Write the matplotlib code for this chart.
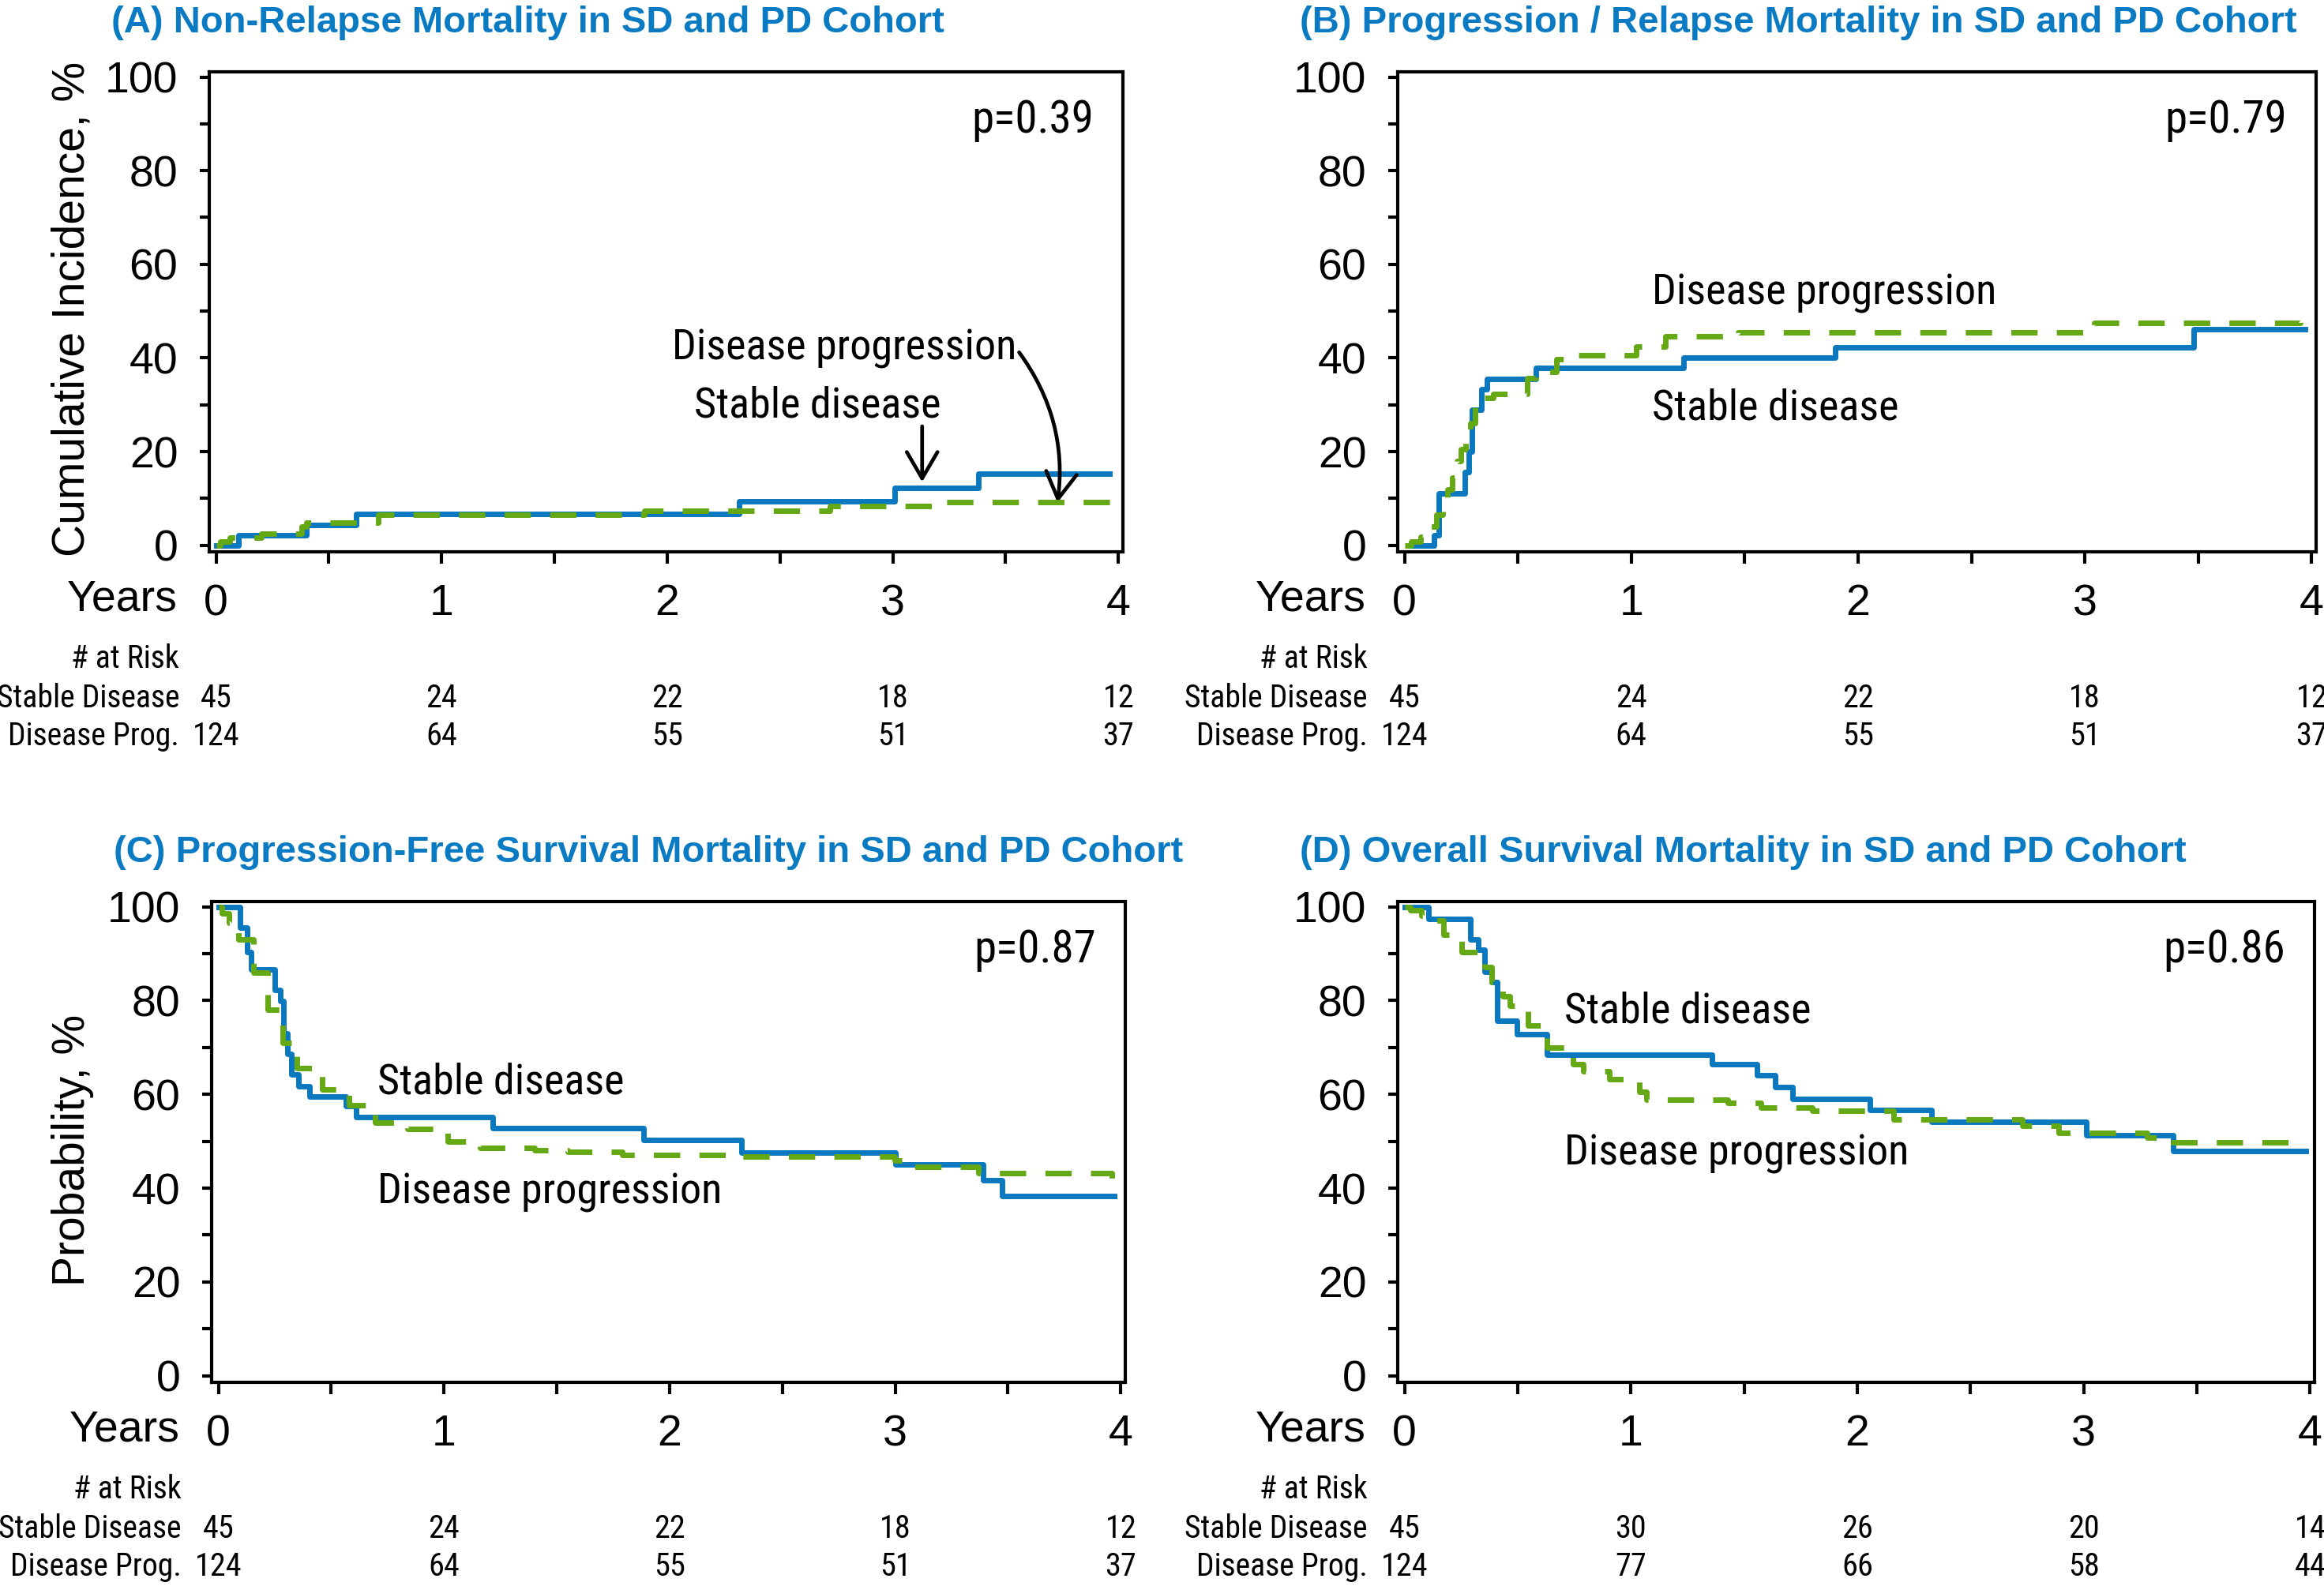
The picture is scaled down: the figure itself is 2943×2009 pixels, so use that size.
import os
import numpy as np
import matplotlib
matplotlib.use("Agg")
import matplotlib.pyplot as plt
from matplotlib import font_manager

# ____data (years, %)
a_sd_t = [0, 0.10, 0.40, 0.62, 2.32, 3.01, 3.38, 3.96]
a_sd_v = [0, 2.2, 4.4, 6.7, 9.4, 12.3, 15.3, 15.3]
a_pd_t = [0, 0.02, 0.06, 0.20, 0.38, 0.40, 0.72, 1.90, 2.72, 3.21, 3.97]
a_pd_v = [0, 0.8, 1.6, 2.4, 4.0, 4.8, 6.5, 7.3, 8.4, 9.3, 9.3]

b_sd_t = [0.04, 0.13, 0.15, 0.266, 0.285, 0.298, 0.338, 0.365, 0.578, 1.23, 1.90, 3.48, 3.97]
b_sd_v = [0, 2.2, 11.1, 15.6, 20.0, 28.9, 33.3, 35.6, 37.8, 40.0, 42.2, 46.2, 46.2]
b_pd_t = [0, 0.03, 0.07, 0.10, 0.14, 0.17, 0.19, 0.21, 0.23, 0.25, 0.27, 0.29, 0.31, 0.33, 0.39,
          0.54, 0.58, 0.67, 0.72, 1.02, 1.15, 1.47, 3.04, 3.95, 3.97]
b_pd_v = [0, 0.8, 1.8, 4.0, 6.5, 9.5, 12.0, 14.5, 18.0, 20.5, 22.1, 26.0, 30.0, 31.5, 32.3,
          35.7, 37.0, 39.7, 40.5, 42.5, 44.7, 45.5, 47.5, 49.0, 49.0]

c_sd_t = [0, 0.097, 0.129, 0.145, 0.251, 0.274, 0.29, 0.306, 0.322, 0.354, 0.403, 0.564, 0.612,
          1.215, 1.885, 2.32, 3.0, 3.39, 3.474, 3.97]
c_sd_v = [100, 95.5, 90.3, 86.7, 82.2, 79.9, 73.0, 68.7, 64.3, 61.7, 59.6, 57.5, 55.2,
          52.8, 50.2, 47.6, 45.0, 41.7, 38.4, 38.4]
c_pd_t = [0, 0.016, 0.048, 0.09, 0.155, 0.219, 0.284, 0.348, 0.46, 0.58, 0.693, 0.838, 1.015,
          1.16, 1.40, 1.547, 1.789, 2.32, 2.997, 3.06, 3.37, 3.96, 3.97]
c_pd_v = [100, 98.5, 96.5, 93.0, 86.0, 78.0, 71.0, 65.6, 61.0, 57.6, 54.0, 52.7, 50.0,
          48.6, 48.1, 47.8, 47.0, 46.8, 45.9, 44.5, 43.2, 41.9, 41.9]

d_sd_t = [0, 0.107, 0.29, 0.326, 0.352, 0.384, 0.41, 0.498, 0.629, 1.36, 1.557, 1.638, 1.713,
          2.055, 2.329, 3.013, 3.397, 3.98]
d_sd_v = [100, 97.4, 93.1, 90.8, 86.1, 84.0, 75.7, 72.9, 68.4, 66.4, 64.0, 61.5, 59.1,
          56.7, 54.1, 51.3, 47.9, 47.9]
d_pd_t = [0, 0.026, 0.075, 0.124, 0.173, 0.254, 0.352, 0.384, 0.433, 0.466, 0.547, 0.629, 0.743,
          0.79, 0.905, 1.036, 1.068, 1.427, 1.573, 1.80, 2.16, 2.73, 2.89, 3.28, 3.38, 3.98]
d_pd_v = [100, 99.2, 98.0, 97.0, 94.0, 90.3, 87.2, 84.0, 80.9, 78.9, 74.7, 70.0, 66.4,
          64.9, 63.2, 60.6, 58.9, 58.2, 57.2, 56.5, 54.7, 53.3, 51.8, 50.7, 49.7, 49.7]

titles = ["(A) Non-Relapse Mortality in SD and PD Cohort",
          "(B) Progression / Relapse Mortality in SD and PD Cohort",
          "(C) Progression-Free Survival Mortality in SD and PD Cohort",
          "(D) Overall Survival Mortality in SD and PD Cohort"]
p_values = ["p=0.39", "p=0.79", "p=0.87", "p=0.86"]
risk_years = [0, 1, 2, 3, 4]
risk_sd = [[45, 24, 22, 18, 12], [45, 24, 22, 18, 12], [45, 24, 22, 18, 12], [45, 30, 26, 20, 14]]
risk_pd = [[124, 64, 55, 51, 37], [124, 64, 55, 51, 37], [124, 64, 55, 51, 37], [124, 77, 66, 58, 44]]

blue = "#0A78BE"
green = "#64A814"
title_blue = "#0A7BC2"

plt.rcParams['font.family'] = ["Liberation Sans", "DejaVu Sans"]

# ____look for a narrow face (Arial Narrow look) for labels / risk table
all_files = list(font_manager.findSystemFonts()) + [f.fname for f in font_manager.fontManager.ttflist]
by_name = {os.path.basename(f).lower(): f for f in all_files}
narrow_file = None
for cand in ["liberationsansnarrow-regular.ttf", "arialn.ttf", "arialnarrow.ttf",
             "robotocondensed-regular.ttf", "notosans-condensed.ttf", "opensans-condensedregular.ttf",
             "opensans_condensed-regular.ttf", "dejavusanscondensed.ttf", "notosans-semicondensed.ttf"]:
    if cand in by_name:
        narrow_file = by_name[cand]
        break
if narrow_file is None:
    for name, f in sorted(by_name.items()):
        if ("narrow" in name or "condensed" in name) and not any(
                k in name for k in ["bold", "italic", "light", "thin", "black", "medium", "extra", "semi", "oblique"]):
            narrow_file = f
            break


def nfont(size):
    if narrow_file is not None:
        return font_manager.FontProperties(fname=narrow_file, size=size)
    # no narrow face installed: shrink the regular one so widths match
    return font_manager.FontProperties(family="Liberation Sans", size=size * 0.84)


W, H = 2943, 2009
fig = plt.figure(figsize=(W / 100, H / 100), dpi=100)

# axes boxes in pixels: left, right, top, bottom
boxes = [(265, 1422, 91, 699), (1770, 2933, 91, 699), (268, 1425, 1142, 1751), (1770, 2931, 1142, 1751)]
axes = []
for (l, r, t, b) in boxes:
    axes.append(fig.add_axes([l / W, 1 - b / H, (r - l) / W, (b - t) / H]))

series = [(a_sd_t, a_sd_v, a_pd_t, a_pd_v), (b_sd_t, b_sd_v, b_pd_t, b_pd_v),
          (c_sd_t, c_sd_v, c_pd_t, c_pd_v), (d_sd_t, d_sd_v, d_pd_t, d_pd_v)]

for i, ax in enumerate(axes):
    sd_t, sd_v, pd_t, pd_v = series[i]
    ax.step(sd_t, sd_v, where='post', color=blue, lw=5, zorder=3)
    ax.step(pd_t, pd_v, where='post', color=green, lw=5, dashes=(4.8, 3.5), zorder=4)

    ax.set_xlim(-0.03, 4.02)
    ax.set_ylim(-1.4, 101.1)
    ax.set_xticks(risk_years)
    ax.set_xticks(np.arange(0.5, 4, 1), minor=True)
    ax.set_yticks(np.arange(0, 101, 20))
    ax.set_yticks(np.arange(10, 100, 20), minor=True)
    ax.tick_params(axis='x', which='both', direction='out', length=10.8, width=3, pad=18, labelsize=40)
    ax.tick_params(axis='y', which='both', direction='out', length=8.6, width=3, pad=20, labelsize=40)
    for s in ax.spines.values():
        s.set_linewidth(3)

    ax.text(3.89, 88.2, p_values[i], ha='right', va='baseline', fontproperties=nfont(41))

    ax.annotate(titles[i], xy=(0, 1), xycoords='axes fraction', xytext=(-124, 50),
                textcoords='offset pixels', ha='left', va='baseline', fontsize=34,
                fontweight='bold', color=title_blue)

    # ____risk table
    ax.annotate("Years", xy=(0, 0), xycoords='axes fraction', xytext=(-40, -61),
                textcoords='offset pixels', ha='right', va='center', fontsize=40)
    for lab, dy in [("# at Risk", -136), ("Stable Disease", -185), ("Disease Prog.", -234)]:
        ax.annotate(lab, xy=(0, 0), xycoords='axes fraction', xytext=(-38, dy),
                    textcoords='offset pixels', ha='right', va='center', fontproperties=nfont(28.5))
    for j, yr in enumerate(risk_years):
        ax.annotate(str(risk_sd[i][j]), xy=(yr, 0), xycoords=ax.get_xaxis_transform(), xytext=(0, -185),
                    textcoords='offset pixels', ha='center', va='center', fontproperties=nfont(29))
        ax.annotate(str(risk_pd[i][j]), xy=(yr, 0), xycoords=ax.get_xaxis_transform(), xytext=(0, -234),
                    textcoords='offset pixels', ha='center', va='center', fontproperties=nfont(29))

# ____curve labels
axA, axB, axC, axD = axes
axA.text(2.02, 39.6, "Disease progression", va='baseline', fontproperties=nfont(39))
axA.text(2.12, 27.4, "Stable disease", va='baseline', fontproperties=nfont(39))
arrow_kw = dict(arrowstyle="->,head_length=1.2,head_width=0.7", color='black', lw=3.4,
                mutation_scale=20, shrinkA=0, shrinkB=0)
axA.annotate("", xy=(3.13, 13.5), xytext=(3.13, 25.4), arrowprops=arrow_kw)
axA.annotate("", xy=(3.73, 9.1), xytext=(3.56, 41.2),
             arrowprops=dict(arrow_kw, connectionstyle="arc3,rad=-0.2"))

axB.text(1.093, 51.5, "Disease progression", va='baseline', fontproperties=nfont(39))
axB.text(1.093, 26.8, "Stable disease", va='baseline', fontproperties=nfont(39))
axC.text(0.704, 60.1, "Stable disease", va='baseline', fontproperties=nfont(39))
axC.text(0.704, 36.7, "Disease progression", va='baseline', fontproperties=nfont(39))
axD.text(0.705, 75.2, "Stable disease", va='baseline', fontproperties=nfont(39))
axD.text(0.705, 45.0, "Disease progression", va='baseline', fontproperties=nfont(39))

fig.text(92 / W, 1 - 391 / H, "Cumulative Incidence, %", rotation=90, ha='center', va='center', fontsize=41)
fig.text(92 / W, 1 - 1457 / H, "Probability, %", rotation=90, ha='center', va='center', fontsize=41)

fig.savefig("out.png", dpi=100, facecolor='white')
